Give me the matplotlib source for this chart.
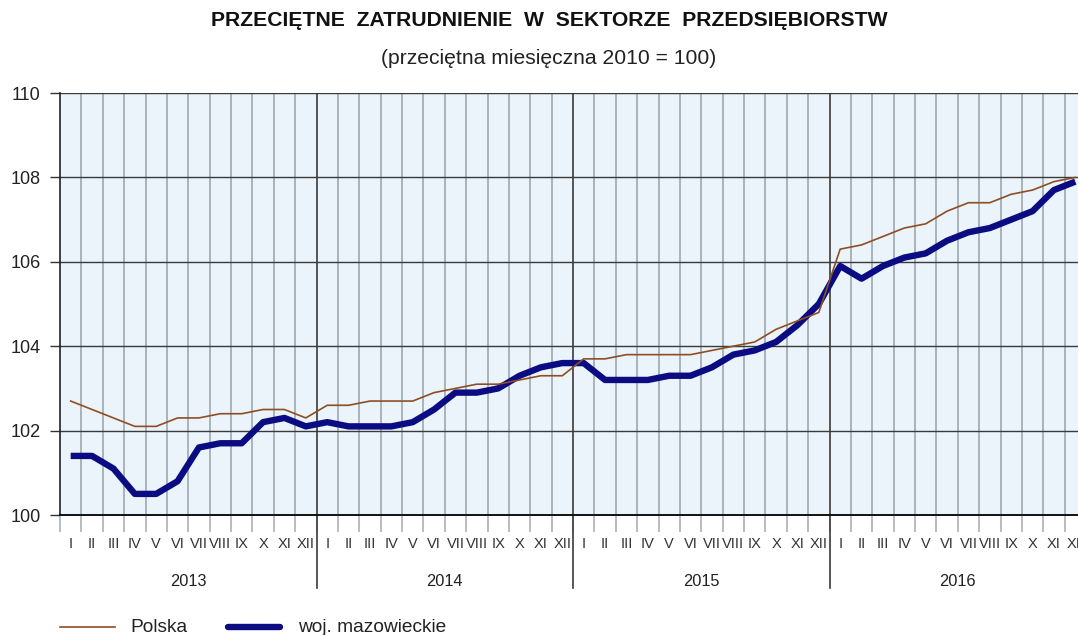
import matplotlib
matplotlib.use("Agg")
import matplotlib.pyplot as plt
from matplotlib.lines import Line2D
import numpy as np

plt.rcParams['font.family'] = ['Liberation Sans', 'DejaVu Sans']

years = ["2013", "2014", "2015", "2016"]
months = ["I", "II", "III", "IV", "V", "VI", "VII", "VIII", "IX", "X", "XI", "XII"]

polska = [
    102.7, 102.5, 102.3, 102.1, 102.1, 102.3, 102.3, 102.4, 102.4, 102.5, 102.5, 102.3,
    102.6, 102.6, 102.7, 102.7, 102.7, 102.9, 103.0, 103.1, 103.1, 103.2, 103.3, 103.3,
    103.7, 103.7, 103.8, 103.8, 103.8, 103.8, 103.9, 104.0, 104.1, 104.4, 104.6, 104.8,
    106.3, 106.4, 106.6, 106.8, 106.9, 107.2, 107.4, 107.4, 107.6, 107.7, 107.9, 108.0,
]
mazowieckie = [
    101.4, 101.4, 101.1, 100.5, 100.5, 100.8, 101.6, 101.7, 101.7, 102.2, 102.3, 102.1,
    102.2, 102.1, 102.1, 102.1, 102.2, 102.5, 102.9, 102.9, 103.0, 103.3, 103.5, 103.6,
    103.6, 103.2, 103.2, 103.2, 103.3, 103.3, 103.5, 103.8, 103.9, 104.1, 104.5, 105.0,
    105.9, 105.6, 105.9, 106.1, 106.2, 106.5, 106.7, 106.8, 107.0, 107.2, 107.7, 107.9,
]

title = "PRZECIĘTNE  ZATRUDNIENIE  W  SEKTORZE  PRZEDSIĘBIORSTW"
subtitle = "(przeciętna miesięczna 2010 = 100)"
legend_labels = ["Polska", "woj. mazowieckie"]

W, H = 1078, 635
fig = plt.figure(figsize=(W / 100, H / 100), dpi=100)
fig.patch.set_facecolor("white")

ax_l, ax_r, ax_t, ax_b = 60, 1086, 93, 515
ax = fig.add_axes([ax_l / W, (H - ax_b) / H, (ax_r - ax_l) / W, (ax_b - ax_t) / H])
ax.set_facecolor("#EAF4FA")

n = len(polska)
x = np.arange(n) + 0.5
ax.set_xlim(0, n)
ax.set_ylim(100, 110)

# grid
for i in range(1, n):
    if i % 12 == 0:
        ax.axvline(i, color="#3a3a3a", lw=1.2, zorder=1)
    else:
        ax.axvline(i, color="#A9B3BA", lw=1.4, zorder=1)
for yv in range(102, 111, 2):
    ax.axhline(yv, color="#3a3a3a", lw=1.0, zorder=1)

polska_color = "#8E4E24"
maz_color = "#0B0B82"
ax.plot(x, mazowieckie, color=maz_color, lw=4.6, solid_capstyle="butt", zorder=3)
ax.plot(x, polska, color=polska_color, lw=1.2, zorder=4)

for s in ["top", "right"]:
    ax.spines[s].set_visible(False)
ax.spines["left"].set_color("#222222")
ax.spines["left"].set_linewidth(1.2)
ax.spines["bottom"].set_color("#111111")
ax.spines["bottom"].set_linewidth(1.4)

ax.set_yticks(range(100, 111, 2))
ax.tick_params(axis="y", direction="out", length=7, width=1, color="#333333",
               labelsize=13, pad=7, labelcolor="#222222")

# x ticks: month boundaries as ticks, labels at centres
ax.set_xticks(np.arange(0, n + 1))
ax.set_xticklabels([])
ax.tick_params(axis="x", direction="out", length=12, width=1.2, color="#A9B3BA")
labels = [months[i % 12] for i in range(n)]
trans = ax.get_xaxis_transform()
for xi, lab in zip(x, labels):
    ax.text(xi, -0.068, lab, transform=trans, ha="center", va="center",
            fontsize=10.5, color="#333333")
for k, yr in enumerate(years):
    ax.text(12 * k + 6, -0.158, yr, transform=trans, ha="center", va="center",
            fontsize=11.8, color="#222222")
for k in range(1, len(years)):
    ax.add_line(Line2D([12 * k, 12 * k], [0, -0.173], transform=trans,
                       color="#3a3a3a", lw=1.2, clip_on=False))

fig.text(549 / W, 1 - 21 / H, title, ha="center", va="center",
         fontsize=15.2, fontweight="bold", color="#111111")
fig.text(549 / W, 1 - 59 / H, subtitle, ha="center", va="center",
         fontsize=15.2, color="#222222")

# legend
ly = 1 - 627 / H
fig.add_artist(Line2D([60 / W, 115 / W], [ly, ly], color=polska_color, lw=1.2))
fig.text(130 / W, ly, legend_labels[0], ha="left", va="center", fontsize=13.8, color="#222222")
fig.add_artist(Line2D([228 / W, 280 / W], [ly, ly], color=maz_color, lw=4.6, solid_capstyle="round"))
fig.text(298 / W, ly, legend_labels[1], ha="left", va="center", fontsize=13.8, color="#222222")

fig.savefig("out.png", dpi=100)
